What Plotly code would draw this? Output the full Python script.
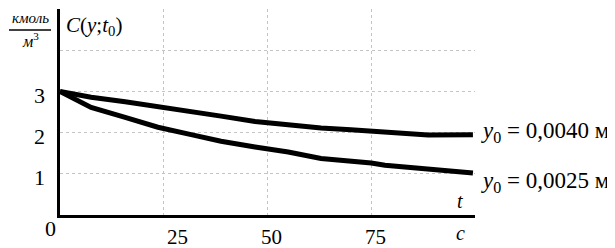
import plotly.graph_objects as go

# Data
t_vals = [0, 7.5, 15.7, 23.6, 31.6, 38.8, 47, 55, 62.9, 70.1, 75, 78.3, 82.2, 86.3, 88.7, 99.5]
c_upper = [3.0, 2.86, 2.75, 2.64, 2.52, 2.40, 2.27, 2.19, 2.11, 2.07, 2.04, 2.02, 1.99, 1.95, 1.94, 1.95]
c_lower = [3.0, 2.61, 2.37, 2.13, 1.95, 1.79, 1.65, 1.53, 1.37, 1.31, 1.26, 1.21, 1.17, 1.13, 1.11, 1.02]
x_ticks = [25, 50, 75]
x_tick_labels = ["25", "50", "75"]
y_ticks = [1, 2, 3]
y_tick_labels = ["1", "2", "3"]
series_labels = ["<i>y</i><sub>0</sub> = 0,0040 м", "<i>y</i><sub>0</sub> = 0,0025 м"]

W, H = 615, 248
L, R, T, B = 52, 148, 1, 41
PW, PH = W - L - R, H - T - B
FONT = "Liberation Serif"


def px(p):
    return (p - L) / PW


def py(p):
    return 1 - (p - T) / PH


fig = go.Figure()
fig.add_trace(go.Scatter(x=t_vals, y=c_upper, mode="lines",
                         line=dict(color="black", width=5), showlegend=False))
fig.add_trace(go.Scatter(x=t_vals, y=c_lower, mode="lines",
                         line=dict(color="black", width=5), showlegend=False))

fig.update_layout(
    template="none",
    width=W, height=H,
    margin=dict(l=L, r=R, t=T, b=B, pad=0),
    paper_bgcolor="white", plot_bgcolor="white",
    font=dict(family=FONT, color="black", size=20),
    xaxis=dict(range=[0, 100], tickvals=[25, 50, 75, 100], showticklabels=False,
               showgrid=True, gridcolor="#c4c4c4", griddash="dot", gridwidth=1,
               showline=True, linecolor="black", linewidth=3, zeroline=False, ticks=""),
    yaxis=dict(range=[0, 5], tickvals=[1, 2, 3, 4, 5], showticklabels=False,
               showgrid=True, gridcolor="#c4c4c4", griddash="dot", gridwidth=1,
               showline=True, linecolor="black", linewidth=3, zeroline=False, ticks=""),
)

ann = []
# x tick labels
x_shift = [14, 4, 4]
for v, lab, s in zip(x_ticks, x_tick_labels, x_shift):
    ann.append(dict(x=v, xref="x", y=py(229), yref="paper", text=lab, showarrow=False,
                    xanchor="center", yanchor="middle", xshift=s,
                    font=dict(size=21, family=FONT)))
# y tick labels
for v, lab in zip(y_ticks, y_tick_labels):
    ann.append(dict(x=px(31), xref="paper", y=v, yref="y", text=lab, showarrow=False,
                    xanchor="center", yanchor="middle", yshift=-4,
                    font=dict(size=22, family=FONT)))
# origin
ann.append(dict(x=px(42.5), xref="paper", y=py(220), yref="paper", text="0", showarrow=False,
                xanchor="center", yanchor="middle", font=dict(size=22, family=FONT)))
# axis titles
ann.append(dict(x=px(452), xref="paper", y=py(193), yref="paper", text="<i>t</i>", showarrow=False,
                xanchor="center", yanchor="middle", font=dict(size=20, family=FONT)))
ann.append(dict(x=px(452), xref="paper", y=py(225), yref="paper", text="<i>c</i>", showarrow=False,
                xanchor="center", yanchor="middle", font=dict(size=20, family=FONT)))
ann.append(dict(x=px(56), xref="paper", y=py(18), yref="paper",
                text="<i>C</i>(<i>y</i>;<i>t</i><sub>0</sub>)", showarrow=False,
                xanchor="left", yanchor="middle", font=dict(size=21, family=FONT)))
ann.append(dict(x=px(22), xref="paper", y=py(10), yref="paper", text="<i>кмоль</i>", showarrow=False,
                xanchor="center", yanchor="middle", font=dict(size=15, family=FONT)))
ann.append(dict(x=px(22), xref="paper", y=py(32), yref="paper", text="<i>м</i><sup>3</sup>", showarrow=False,
                xanchor="center", yanchor="middle", font=dict(size=16, family=FONT)))
# series labels
for lab, yc in zip(series_labels, [124, 174]):
    ann.append(dict(x=px(471), xref="paper", y=py(yc), yref="paper", text=lab, showarrow=False,
                    xanchor="left", yanchor="middle", font=dict(size=23, family=FONT)))
fig.update_layout(annotations=ann)

fig.add_shape(type="line", xref="paper", yref="paper", x0=px(1), x1=px(43), y0=py(22), y1=py(22),
              line=dict(color="black", width=1.5))

fig.write_html("out.html")
